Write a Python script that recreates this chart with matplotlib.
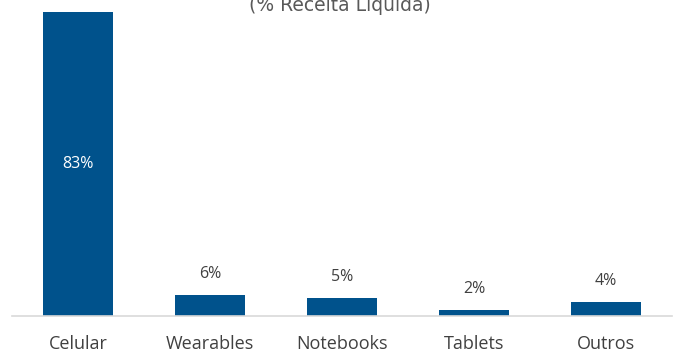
import matplotlib
matplotlib.use("Agg")
import matplotlib.pyplot as plt

categories = ["Celular", "Wearables", "Notebooks", "Tablets", "Outros"]
values = [83.0, 5.8, 4.9, 1.7, 3.9]
labels = ["83%", "6%", "5%", "2%", "4%"]

plt.rcParams['font.family'] = ['Open Sans', 'DejaVu Sans']
fig = plt.figure(figsize=(6.81, 3.54), dpi=100)
ax = fig.add_axes([12/681, 1-316/354, 660/681, 316/354])
bar_color = "#00528c"
x = range(len(categories))
bars = ax.bar(x, values, width=0.526, color=bar_color)
ax.set_xlim(-0.5, len(categories) - 0.5)
ax.set_ylim(0, 83 * 316 / 304)
for i, (v, lab) in enumerate(zip(values, labels)):
    if i == 0:
        ax.text(i, v / 2, lab, ha="center", va="center", color="white", fontsize=11.5)
    else:
        ax.text(i, v + 3.6, lab, ha="center", va="bottom", color="#404040", fontsize=11.5)
for s in ["top", "right", "left"]:
    ax.spines[s].set_visible(False)
ax.spines["bottom"].set_color("#d9d9d9")
ax.spines["bottom"].set_linewidth(1.2)
ax.set_yticks([])
ax.set_xticks(list(x))
ax.set_xticklabels(categories, fontsize=13, color="#404040")
ax.tick_params(axis="x", length=0, pad=14)
fig.text(340/681, 1 - 5.5/354, "(% Receita Líquida)", ha="center", va="center",
         fontsize=13.5, color="#595959", family=["DejaVu Sans"])
fig.savefig("out.png", dpi=100)
